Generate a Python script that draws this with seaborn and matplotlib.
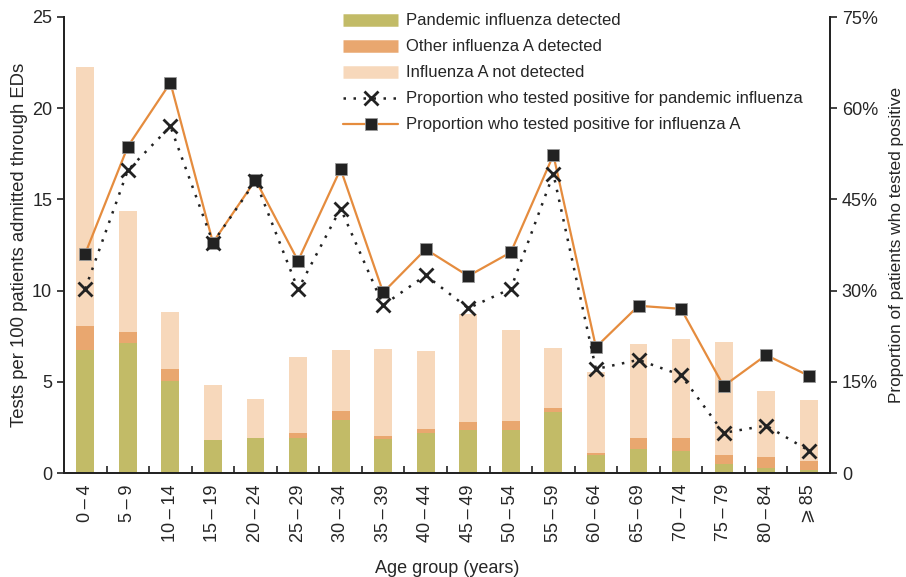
import numpy as np
import pandas as pd
import matplotlib
matplotlib.use("Agg")
import matplotlib.pyplot as plt
from matplotlib.lines import Line2D
from matplotlib.ticker import FixedLocator
import seaborn as sns

# Age groups (years)
age_groups = ["0\u2009\u2013\u20094", "5\u2009\u2013\u20099", "10\u2009\u2013\u200914", "15\u2009\u2013\u200919",
              "20\u2009\u2013\u200924", "25\u2009\u2013\u200929", "30\u2009\u2013\u200934", "35\u2009\u2013\u200939",
              "40\u2009\u2013\u200944", "45\u2009\u2013\u200949", "50\u2009\u2013\u200954", "55\u2009\u2013\u200959",
              "60\u2009\u2013\u200964", "65\u2009\u2013\u200969", "70\u2009\u2013\u200974", "75\u2009\u2013\u200979",
              "80\u2009\u2013\u200984", "\u2a7e\u200985"]

# Tests per 100 patients admitted through EDs, split by result
pandemic_detected = [6.76, 7.11, 5.04, 1.81, 1.94, 1.94, 2.91, 1.86, 2.18, 2.37, 2.37, 3.36,
                     0.99, 1.32, 1.19, 0.51, 0.29, 0.16]
other_a_detected = [1.30, 0.62, 0.66, 0.01, 0.00, 0.25, 0.49, 0.17, 0.23, 0.43, 0.48, 0.20,
                    0.11, 0.60, 0.73, 0.48, 0.59, 0.50]
a_not_detected = [14.22, 6.63, 3.13, 3.00, 2.12, 4.17, 3.34, 4.77, 4.28, 5.92, 4.99, 3.29,
                  4.44, 5.15, 5.43, 6.19, 3.62, 3.34]

# Proportion of tested patients who were positive (%)
pct_pandemic = [30.3, 49.8, 57.0, 37.9, 48.0, 30.2, 43.5, 27.6, 32.5, 27.1, 30.3, 49.2,
                17.1, 18.6, 16.1, 6.6, 7.8, 3.7]
pct_influenza_a = [36.1, 53.7, 64.2, 37.9, 48.2, 34.9, 50.0, 29.7, 36.8, 32.4, 36.3, 52.3,
                   20.7, 27.5, 27.0, 14.3, 19.4, 16.0]

left_ticks = [0, 5, 10, 15, 20, 25]
right_ticks = [0, 15, 30, 45, 60, 75]

c_pandemic = "#c2bb67"
c_other = "#e9a76f"
c_not = "#f7d8bb"
c_line = "#e58c3e"
c_ink = "#222222"

sns.set_theme(style="white")
plt.rcParams["font.family"] = ["Liberation Sans", "DejaVu Sans"]

df = pd.DataFrame({
    "age": age_groups,
    "pandemic": pandemic_detected,
    "other": other_a_detected,
    "notdet": a_not_detected,
})
df["a_total"] = df["pandemic"] + df["other"]
df["total"] = df["a_total"] + df["notdet"]
df["pos"] = np.arange(len(df))
df["pct_pan"] = pct_pandemic
df["pct_a"] = pct_influenza_a

fig = plt.figure(figsize=(9.06, 5.77), dpi=100)
ax = fig.add_axes([64 / 906, 1 - 473 / 577, (830 - 64) / 906, (473 - 17) / 577])

# stacked bars: draw the full height first, then overlay the lower segments
bw = 0.42
sns.barplot(data=df, x="age", y="total", color=c_not, width=bw, saturation=1, ax=ax)
sns.barplot(data=df, x="age", y="a_total", color=c_other, width=bw, saturation=1, ax=ax)
sns.barplot(data=df, x="age", y="pandemic", color=c_pandemic, width=bw, saturation=1, ax=ax)
for p in ax.patches:
    p.set_linewidth(0)

ax.set_xlim(-0.5, len(df) - 0.5)
ax.set_ylim(0, 25)
ax.set_yticks(left_ticks)
ax.set_yticklabels([str(t) for t in left_ticks])
ax.set_xticks(df["pos"])
ax.set_xticklabels(age_groups, rotation=90)
ax.xaxis.set_minor_locator(FixedLocator(np.arange(0.5, len(df) - 1, 1.0)))
ax.tick_params(axis="x", which="major", length=0, pad=8, labelsize=13)
ax.tick_params(axis="x", which="minor", direction="in", length=5, width=1.2, color=c_ink, bottom=True)
ax.tick_params(axis="y", which="major", direction="out", length=5, width=1.2, color=c_ink,
               labelsize=13, left=True)
ax.set_xlabel("Age group (years)", fontsize=13, labelpad=13)
ax.set_ylabel("Tests per 100 patients admitted through EDs", fontsize=13.3, labelpad=3)

ax2 = ax.twinx()
sns.lineplot(data=df, x="pos", y="pct_a", color=c_line, lw=1.6, marker="s", markersize=8,
             markerfacecolor=c_ink, markeredgecolor="#999999", markeredgewidth=0.6, ax=ax2)
sns.lineplot(data=df, x="pos", y="pct_pan", color=c_ink, lw=1.8, linestyle=(0, (1, 3)),
             marker="x", markersize=10, markeredgewidth=2, markeredgecolor=c_ink, ax=ax2)
ax2.set_ylim(0, 75)
ax2.set_xlim(-0.5, len(df) - 0.5)
ax2.set_yticks(right_ticks)
ax2.set_yticklabels(["0"] + [f"{t}%" for t in right_ticks[1:]])
ax2.tick_params(axis="y", direction="out", length=5, width=1.2, color=c_ink, labelsize=13, right=True)
ax2.set_ylabel("Proportion of patients who tested positive", fontsize=12.4, labelpad=8)

for a in (ax, ax2):
    a.spines["top"].set_visible(False)
    for s in ("left", "bottom", "right"):
        a.spines[s].set_color(c_ink)
        a.spines[s].set_linewidth(1.3)
    a.grid(False)

handles = [
    Line2D([], [], color=c_pandemic, lw=9, solid_capstyle="butt"),
    Line2D([], [], color=c_other, lw=9, solid_capstyle="butt"),
    Line2D([], [], color=c_not, lw=9, solid_capstyle="butt"),
    Line2D([], [], color=c_ink, lw=1.8, linestyle=(0, (1, 3)), marker="x", markersize=10,
           markeredgewidth=2),
    Line2D([], [], color=c_line, lw=1.6, marker="s", markersize=8, markerfacecolor=c_ink,
           markeredgecolor="#999999", markeredgewidth=0.6),
]
labels = ["Pandemic influenza detected", "Other influenza A detected", "Influenza A not detected",
          "Proportion who tested positive for pandemic influenza",
          "Proportion who tested positive for influenza A"]
leg = ax2.legend(handles, labels, loc="upper left", bbox_to_anchor=(335 / 906, 1 - 5 / 577),
                 bbox_transform=fig.transFigure, frameon=False,
                 handlelength=3.3, handletextpad=0.45, labelspacing=0.66, borderpad=0,
                 prop={"size": 12})

fig.savefig("out.png", dpi=100)
